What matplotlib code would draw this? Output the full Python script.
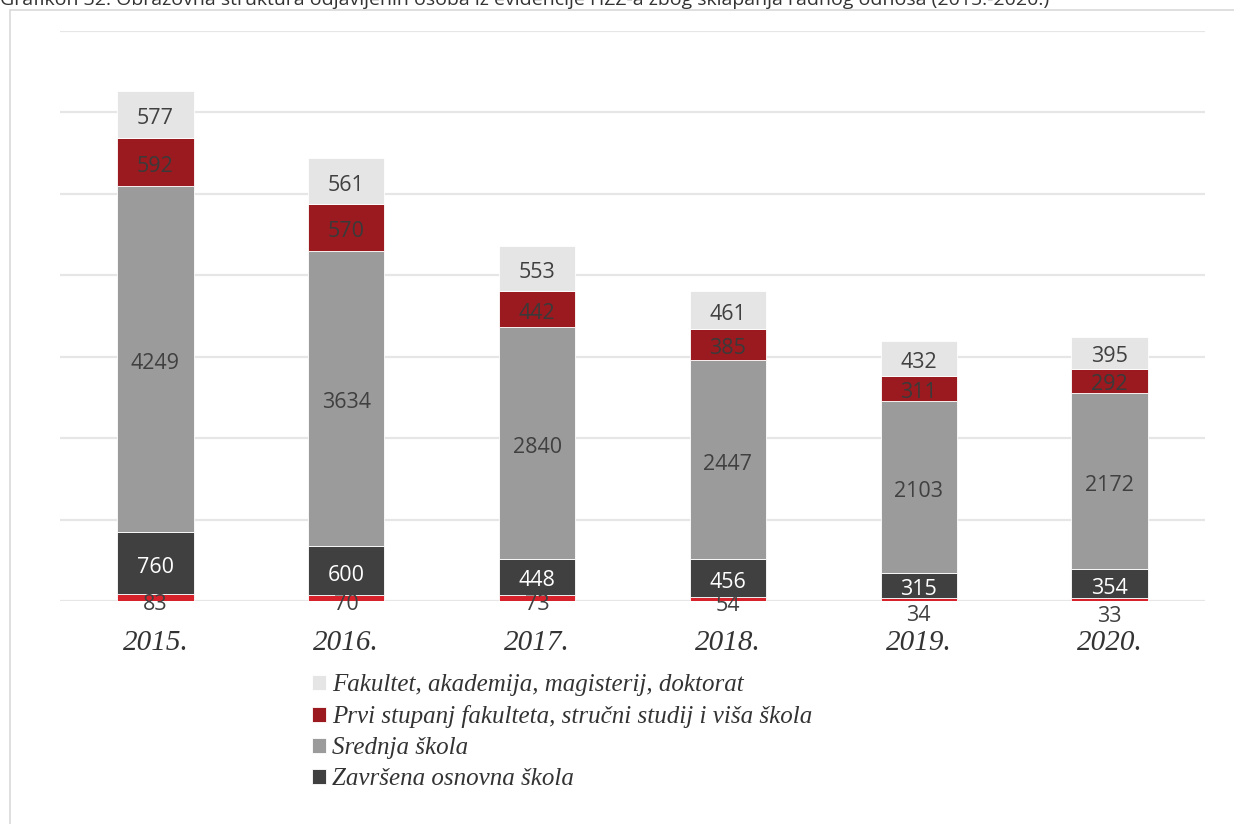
import matplotlib.pyplot as plt
from matplotlib.patches import Rectangle
import numpy as np

# podaci (odjavljene osobe po obrazovanju)
godine = ['2015.', '2016.', '2017.', '2018.', '2019.', '2020.']
bez_skole = [83, 70, 73, 54, 34, 33]
osnovna = [760, 600, 448, 456, 315, 354]
srednja = [4249, 3634, 2840, 2447, 2103, 2172]
prvi_stupanj = [592, 570, 442, 385, 311, 292]
fakultet = [577, 561, 553, 461, 432, 395]

serije = [
    ('_bez_skole', bez_skole, '#d7222c', '#404040'),
    ('Završena osnovna škola', osnovna, '#404040', 'white'),
    ('Srednja škola', srednja, '#9b9b9b', '#404040'),
    ('Prvi stupanj fakulteta, stručni studij i viša škola', prvi_stupanj, '#9b1a1f', '#3a3a3a'),
    ('Fakultet, akademija, magisterij, doktorat', fakultet, '#e5e5e5', '#404040'),
]

fig = plt.figure(figsize=(12.34, 8.24), dpi=100)
W, H = 1234, 824
ax = fig.add_axes([60 / W, 1 - 601 / H, (1205 - 60) / W, (601 - 31) / H])

x = np.arange(len(godine))
dno = np.zeros(len(godine))
handles = []
for naziv, vrijednosti, boja, boja_teksta in serije:
    v = np.array(vrijednosti)
    b = ax.bar(x, v, 0.4, bottom=dno, color=boja, edgecolor='white', linewidth=0.6,
               label=naziv, zorder=3)
    for i, val in enumerate(v):
        y = dno[i] + val / 2
        if naziv == '_bez_skole':
            y = dno[i] + val / 2 - (150 if val < 50 else 30)
        ax.annotate(str(val), (x[i], y), xytext=(0, -3), textcoords='offset points',
                    ha='center', va='center', fontsize=15.5, annotation_clip=False,
                    family='Open Sans', color=boja_teksta, zorder=4)
    if not naziv.startswith('_'):
        handles.append(b)
    dno += v

ax.set_xlim(-0.5, len(godine) - 0.5)
ax.set_ylim(0, 7000)
ax.set_yticks(np.arange(0, 7001, 1000))
ax.yaxis.grid(True, color='#e6e6e6', linewidth=1.6, zorder=0)
ax.set_axisbelow(True)
ax.tick_params(axis='y', length=0, labelleft=False)
ax.set_xticks(x)
ax.set_xticklabels(godine, fontsize=21, family='Liberation Serif', style='italic', color='#333333')
ax.tick_params(axis='x', length=0, pad=21)
for s in ax.spines.values():
    s.set_visible(False)

handles = handles[::-1]
leg = ax.legend(handles, [h.get_label() for h in handles], loc='upper left',
                bbox_to_anchor=(312 / W, 1 - 674 / H), bbox_transform=fig.transFigure,
                frameon=False, borderpad=0, borderaxespad=0,
                handlelength=0.55, handleheight=0.55, handletextpad=0.25, labelspacing=0.36,
                prop={'family': 'Liberation Serif', 'style': 'italic', 'size': 18})
for t in leg.get_texts():
    t.set_color('#333333')

# okvir grafikona
fig.patches.append(Rectangle((10 / W, -0.01), 1.02, 1 - 10 / H + 0.01, transform=fig.transFigure,
                             fill=False, edgecolor='#d9d9d9', linewidth=1.2))

fig.text(0.0, 1 - 5 / H,
         'Grafikon 32. Obrazovna struktura odjavljenih osoba iz evidencije HZZ-a zbog sklapanja radnog odnosa (2015.-2020.)',
         fontsize=14, family='Open Sans', color='#333333', va='baseline', ha='left')

fig.savefig('out.png', dpi=100)
